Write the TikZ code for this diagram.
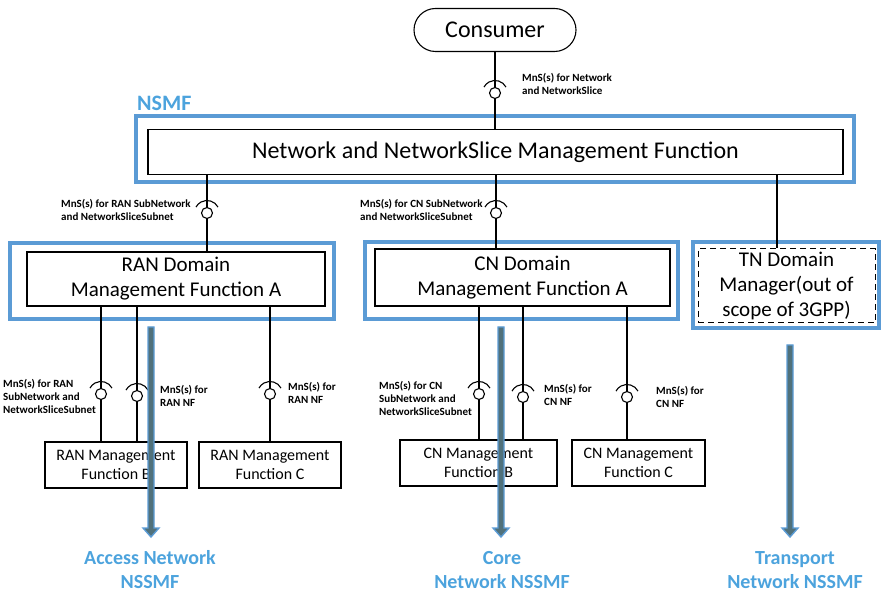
\documentclass[tikz,border=0pt]{standalone}
\usepackage{fontspec}
\setmainfont{Carlito}
\usetikzlibrary{calc}
\definecolor{boxblue}{HTML}{5B9BD5}
\definecolor{txtblue}{HTML}{4CA3DD}
\definecolor{arrfill}{HTML}{50717B}
\tikzset{
  blueframe/.style={draw=boxblue, line width=3.5pt, inner sep=0pt},
  fnbox/.style={draw=black, line width=1.1pt, fill=white, inner sep=0pt, align=center},
  conn/.style={draw=black, line width=1.1pt},
  iface/.style={circle, draw=black, line width=1.1pt, minimum size=11pt, inner sep=0pt},
  mnslabel/.style={font=\fontsize{11}{13}\selectfont\bfseries, align=left, anchor=west, inner sep=0pt},
  bluelabel/.style={font=\fontsize{20}{24}\selectfont\bfseries, text=txtblue, align=center, inner sep=0pt},
  nssarrow/.style={fill=arrfill, draw=boxblue, line width=1.4pt, line join=miter},
  bigtext/.style={font=\fontsize{24}{29}\selectfont},
  midtext/.style={font=\fontsize{21}{25}\selectfont},
  smalltext/.style={font=\fontsize{16}{19}\selectfont}
}
\newcommand\socket[1]{\draw[conn] ($(#1.center)+(28:12.5)$) arc (28:152:12.5);}
\newcommand\drawnssarrow[2]{%
  \draw[nssarrow] ($(#1)+(-3,0)$) -- ($(#2)+(-3,9)$) -- ($(#2)+(-8,9)$) -- (#2)
    -- ($(#2)+(8,9)$) -- ($(#2)+(3,9)$) -- ($(#1)+(3,0)$) -- cycle;}
\begin{document}
\begin{tikzpicture}[x=1pt,y=1pt]
\useasboundingbox (0,0) rectangle (881,-593);

% blue frames
\node[blueframe, minimum width=718pt, minimum height=66pt] (nsmfouter) at (495,-149) {};
\node[blueframe, minimum width=324pt, minimum height=76pt] (ranouter) at (172,-281) {};
\node[blueframe, minimum width=313pt, minimum height=77pt] (cnouter) at (521.5,-280.5) {};
\node[blueframe, minimum width=186pt, minimum height=86pt] (tnouter) at (786,-285) {};
\node[font=\fontsize{22}{26}\selectfont\bfseries, text=txtblue, anchor=west, inner sep=0pt] (nsmflabel) at (137,-103) {NSMF};

% function boxes
\node[fnbox, bigtext, rounded corners=21.5pt, minimum width=162pt, minimum height=43pt] (consumer) at (495,-30) {Consumer};
\node[fnbox, bigtext, minimum width=695pt, minimum height=45pt] (nsmfin) at (495.5,-152) {Network and NetworkSlice Management Function};
\node[fnbox, midtext, minimum width=298pt, minimum height=54pt] (ranin) at (176,-279) {RAN Domain\\Management Function A};
\node[fnbox, midtext, minimum width=295pt, minimum height=57pt] (cnin) at (522.5,-277.5) {CN Domain\\Management Function A};
\node[fnbox, midtext, line width=1pt, dash pattern=on 6pt off 4pt, minimum width=177pt, minimum height=74pt] (tnin) at (786.5,-286) {TN Domain\\Manager(out of\\scope of 3GPP)};
\node[fnbox, smalltext, minimum width=142pt, minimum height=46pt] (ranb) at (116,-465) {RAN Management\\Function B};
\node[fnbox, smalltext, minimum width=142pt, minimum height=46pt] (ranc) at (270,-465) {RAN Management\\Function C};
\node[fnbox, smalltext, minimum width=157pt, minimum height=46pt] (cnb) at (478.5,-463) {CN Management\\Function B};
\node[fnbox, smalltext, minimum width=133pt, minimum height=46pt] (cnc) at (638.5,-463) {CN Management\\Function C};

% interfaces
\node[iface] (i0) at (495,-93) {};
\node[iface] (i1) at (207,-213) {};
\node[iface] (i2) at (496,-213) {};
\node[iface] (i3) at (101,-394) {};
\node[iface] (i4) at (137,-396) {};
\node[iface] (i5) at (270,-394) {};
\node[iface] (i6) at (479,-394) {};
\node[iface] (i7) at (523,-397) {};
\node[iface] (i8) at (627,-397) {};
\foreach \s in {i0,i1,i2,i3,i4,i5,i6,i7,i8} {\socket{\s}}

% connectors
\draw[conn] (consumer.south -| i0) -- (i0);
\draw[conn] (i0) -- (nsmfin.north -| i0);
\draw[conn] (nsmfin.south -| i1) -- (i1);
\draw[conn] (i1) -- (ranin.north -| i1);
\draw[conn] (nsmfin.south -| i2) -- (i2);
\draw[conn] (i2) -- (cnin.north -| i2);
\coordinate (tnx) at (777,0);
\draw[conn] (nsmfin.south -| tnx) -- (tnin.north -| tnx);
\draw[conn] (ranin.south -| i3) -- (i3);
\draw[conn] (i3) -- (ranb.north -| i3);
\draw[conn] (ranin.south -| i4) -- (i4);
\draw[conn] (i4) -- (ranb.north -| i4);
\draw[conn] (ranin.south -| i5) -- (i5);
\draw[conn] (i5) -- (ranc.north -| i5);
\draw[conn] (cnin.south -| i6) -- (i6);
\draw[conn] (i6) -- (cnb.north -| i6);
\draw[conn] (cnin.south -| i7) -- (i7);
\draw[conn] (i7) -- (cnb.north -| i7);
\draw[conn] (cnin.south -| i8) -- (i8);
\draw[conn] (i8) -- (cnc.north -| i8);

% MnS labels
\node[mnslabel] (l0) at (522,-84) {MnS(s) for Network\\and NetworkSlice};
\node[mnslabel] (l1) at (61,-210) {MnS(s) for RAN SubNetwork\\and NetworkSliceSubnet};
\node[mnslabel] (l2) at (360,-210) {MnS(s) for CN SubNetwork\\and NetworkSliceSubnet};
\node[mnslabel] (l3) at (3,-396) {MnS(s) for RAN\\SubNetwork and\\NetworkSliceSubnet};
\node[mnslabel] (l4) at (160,-396) {MnS(s) for\\RAN NF};
\node[mnslabel] (l5) at (288,-393) {MnS(s) for\\RAN NF};
\node[mnslabel] (l6) at (379,-398) {MnS(s) for CN\\SubNetwork and\\NetworkSliceSubnet};
\node[mnslabel] (l7) at (544,-394.5) {MnS(s) for\\CN NF};
\node[mnslabel] (l8) at (656,-396.5) {MnS(s) for\\CN NF};

% NSSMF arrows
\coordinate (a1t) at (151,-327); \coordinate (a1b) at (151,-537);
\coordinate (a2t) at (501,-327); \coordinate (a2b) at (501,-537);
\coordinate (a3t) at (790,-345); \coordinate (a3b) at (790,-537);
\drawnssarrow{a1t}{a1b}
\drawnssarrow{a2t}{a2b}
\drawnssarrow{a3t}{a3b}

\node[bluelabel] (b1) at (150,-570) {Access Network\\NSSMF};
\node[bluelabel] (b2) at (502,-570) {Core\\Network NSSMF};
\node[bluelabel] (b3) at (795,-570) {Transport\\Network NSSMF};
\end{tikzpicture}
\end{document}
